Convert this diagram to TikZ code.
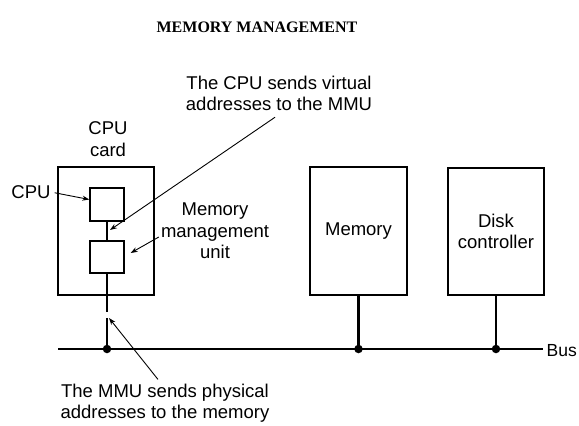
\documentclass[tikz,border=0pt]{standalone}
\usepackage{fontspec}
\setmainfont{Liberation Serif}
\setsansfont{Liberation Sans}
\usetikzlibrary{arrows.meta}

\begin{document}
\begin{tikzpicture}[x=1pt,y=-1pt]
  % styles
  \tikzset{
    lbl/.style={font=\sffamily\fontsize{18.5}{21.5}\selectfont, align=center, inner sep=0pt},
    board/.style={draw=black, line width=1.3pt, inner sep=0pt},
    chip/.style={draw=black, line width=1.3pt, minimum width=34pt, minimum height=33pt, inner sep=0pt},
    tap/.style={circle, fill=black, inner sep=0pt, minimum size=8.5pt},
    wire/.style={draw=black, line width=2.2pt},
    ptr/.style={draw=black, line width=0.9pt, -{Stealth[length=7pt,width=5pt]}}
  }

  \useasboundingbox (0,0) rectangle (579,426);

  % title
  \node[font=\bfseries\fontsize{16}{20}\selectfont, inner sep=0pt] (title) at (257,27) {MEMORY MANAGEMENT};

  % boards
  \node[board, minimum width=96pt, minimum height=128pt] (card) at (106,231) {};
  \node[chip] (cpu) at (107,204.5) {};
  \node[chip, minimum height=32pt] (mmu) at (107,257) {};
  \node[board, minimum width=97pt, minimum height=128pt, lbl] (mem) at (358.5,231) {Memory};
  \node[board, minimum width=96pt, minimum height=127pt, lbl] (disk) at (496,231.5) {Disk\\controller};

  % bus (left end, right end, break in the MMU line)
  \coordinate (busL) at (58,349);
  \coordinate (busR) at (543,349);
  \coordinate (brkA) at (107,312);
  \coordinate (brkB) at (107,318);
  \node[tap] (j1) at (107,349) {};
  \node[tap] (j2) at (358.5,349) {};
  \node[tap] (j3) at (496,349) {};
  \node[lbl, anchor=east, font=\sffamily\fontsize{17.5}{21}\selectfont] (buslbl) at (577,351) {Bus};

  \draw[wire, line width=2.6pt] (busL) -- (busR);
  \draw[wire, line width=1.8pt] (cpu.south) -- (mmu.north);
  \draw[wire] (mmu.south) -- (brkA);
  \draw[wire] (brkB) -- (j1.center);
  \draw[wire] (mem.south) -- (j2.center);
  \draw[wire] (disk.south) -- (j3.center);

  % labels
  \node[lbl] (cardlbl) at (108,139) {CPU\\card};
  \node[lbl] (cpulbl) at (31,192) {CPU};
  \node[lbl] (mmulbl) at (215,231) {Memory\\management\\unit};
  \node[lbl] (virt) at (279,93.5) {The CPU sends virtual\\addresses to the MMU};
  \node[lbl] (phys) at (165,403) {The MMU sends physical\\addresses to the memory};

  % pointers
  \coordinate (link) at (110,230);
  \draw[ptr, shorten <=4pt] (cpulbl.east) -- ([yshift=5pt]cpu.west);
  \draw[ptr] ([shift={(-2pt,-6pt)}]mmulbl.west) -- ([shift={(6pt,4pt)}]mmu.east);
  \draw[ptr] ([shift={(-4pt,-6pt)}]virt.south) -- (link);
  \draw[ptr] ([shift={(-7pt,4pt)}]phys.north) -- ([xshift=2pt]brkB);
\end{tikzpicture}
\end{document}
